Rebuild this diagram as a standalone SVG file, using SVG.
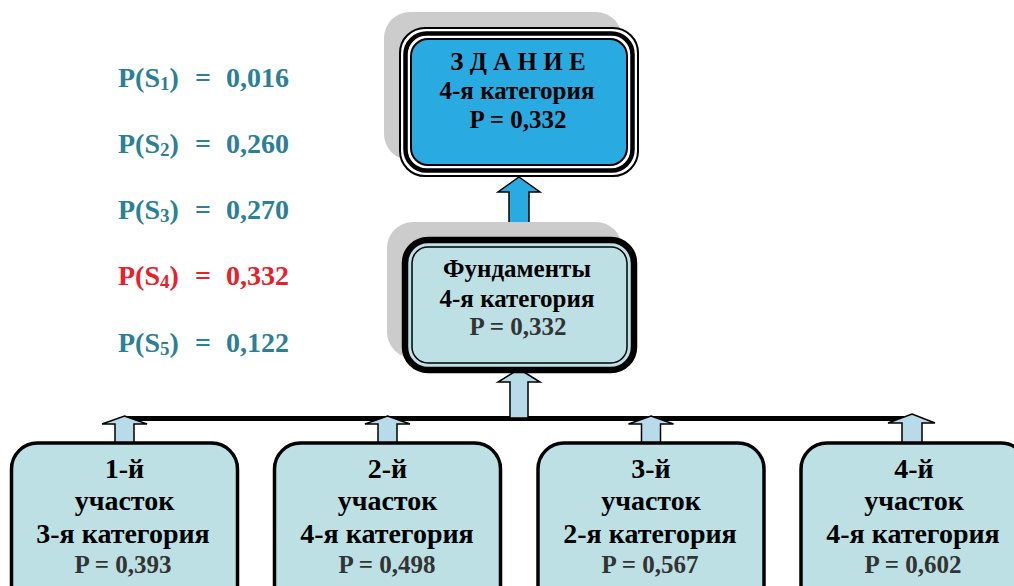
<svg xmlns="http://www.w3.org/2000/svg" width="1014" height="586" viewBox="0 0 1014 586">
<style>
  .t { font-family: "Liberation Serif", "Times New Roman", serif; font-weight: bold; text-anchor: middle; }
  .big { font-size: 28px; fill: #000; }
  .mid { font-size: 25px; fill: #000; }
  .pv { font-size: 25px; fill: #333; }
  .ps { font-family: "Liberation Serif", "Times New Roman", serif; font-weight: bold; font-size: 28px; fill: #2a8096; }
  .red { fill: #e8202a; }
  .sub { font-size: 19px; }
  .shadow { fill: #cccccc; }
  .box { fill: #bde0e5; stroke: #000; stroke-width: 3.5; }
  .arr { stroke: #000; stroke-width: 1.5; stroke-linejoin: miter; }
  .a-blue { fill: #29abe2; }
  .a-light { fill: #b7dbe9; }
</style>

<g id="probabilities">
  <text class="ps" y="87"><tspan x="118">P(S</tspan><tspan class="sub" dy="3">1</tspan><tspan dy="-3">)</tspan><tspan x="195">=</tspan><tspan x="226">0,016</tspan></text>
  <text class="ps" y="153"><tspan x="118">P(S</tspan><tspan class="sub" dy="3">2</tspan><tspan dy="-3">)</tspan><tspan x="195">=</tspan><tspan x="226">0,260</tspan></text>
  <text class="ps" y="219"><tspan x="118">P(S</tspan><tspan class="sub" dy="3">3</tspan><tspan dy="-3">)</tspan><tspan x="195">=</tspan><tspan x="226">0,270</tspan></text>
  <text class="ps red" y="285"><tspan x="118">P(S</tspan><tspan class="sub" dy="3">4</tspan><tspan dy="-3">)</tspan><tspan x="195">=</tspan><tspan x="226">0,332</tspan></text>
  <text class="ps" y="352"><tspan x="118">P(S</tspan><tspan class="sub" dy="3">5</tspan><tspan dy="-3">)</tspan><tspan x="195">=</tspan><tspan x="226">0,122</tspan></text>
</g>

<g id="connectors">
  <line x1="122" y1="418.5" x2="914" y2="418.5" stroke="#000" stroke-width="5"/>
  <polygon class="arr a-blue" points="519,177 540,192 529,192 529,238 509,238 509,192 498,192"/>
  <polygon class="arr a-light" points="519,369 540,382 528,382 528,418 510,418 510,382 498,382"/>
  <polygon class="arr a-light" points="124.5,416 147,424 134,424 134,443 115,443 115,424 102,424"/>
  <polygon class="arr a-light" points="387.5,416 410,424 397,424 397,443 378,443 378,424 365,424"/>
  <polygon class="arr a-light" points="651,416 673.5,424 660.5,424 660.5,443 641.5,443 641.5,424 628.5,424"/>
  <polygon class="arr a-light" points="912,414 935,423 922,423 922,443 902,443 902,423 888,423"/>
</g>

<g id="zdanie">
  <rect class="shadow" x="384" y="12" width="238" height="148" rx="26"/>
  <rect x="400" y="28" width="238" height="148" rx="25" fill="#fff" stroke="#000" stroke-width="2"/>
  <rect x="405.5" y="33.5" width="227" height="137" rx="21" fill="#fff" stroke="#000" stroke-width="4.5"/>
  <rect x="411" y="39" width="216" height="126" rx="17" fill="#29abe2" stroke="#000" stroke-width="2"/>
  <text class="t mid" x="518" y="70">З Д А Н И Е</text>
  <text class="t mid" x="517" y="99">4-я категория</text>
  <text class="t mid" x="518" y="128">P = 0,332</text>
</g>

<g id="fundamenty">
  <rect class="shadow" x="387" y="222" width="235" height="136" rx="26"/>
  <rect x="405" y="240" width="229" height="130" rx="23" fill="#bde0e5" stroke="#000" stroke-width="6.5"/>
  <rect x="412" y="247" width="215" height="116" rx="16" fill="#bde0e5" stroke="#000" stroke-width="1.5"/>
  <text class="t mid" x="517" y="277">Фундаменты</text>
  <text class="t mid" x="517" y="307">4-я категория</text>
  <text class="t pv" x="518" y="335">P = 0,332</text>
</g>

<g id="uchastok1">
  <rect class="box" x="11.5" y="443" width="226" height="170" rx="26"/>
  <text class="t big" x="124.5" y="478">1-й</text>
  <text class="t big" x="124.5" y="510">участок</text>
  <text class="t big" x="123" y="543">3-я категория</text>
  <text class="t pv" x="123" y="573">P = 0,393</text>
</g>

<g id="uchastok2">
  <rect class="box" x="274.5" y="443" width="226" height="170" rx="26"/>
  <text class="t big" x="387.5" y="478">2-й</text>
  <text class="t big" x="387.5" y="510">участок</text>
  <text class="t big" x="387" y="543">4-я категория</text>
  <text class="t pv" x="387" y="573">P = 0,498</text>
</g>

<g id="uchastok3">
  <rect class="box" x="538" y="443" width="226" height="170" rx="26"/>
  <text class="t big" x="651" y="478">3-й</text>
  <text class="t big" x="651" y="510">участок</text>
  <text class="t big" x="650" y="543">2-я категория</text>
  <text class="t pv" x="650" y="573">P = 0,567</text>
</g>

<g id="uchastok4">
  <rect class="box" x="801" y="443" width="226" height="170" rx="26"/>
  <text class="t big" x="914" y="478">4-й</text>
  <text class="t big" x="914" y="510">участок</text>
  <text class="t big" x="913" y="543">4-я категория</text>
  <text class="t pv" x="913" y="573">P = 0,602</text>
</g>
</svg>
